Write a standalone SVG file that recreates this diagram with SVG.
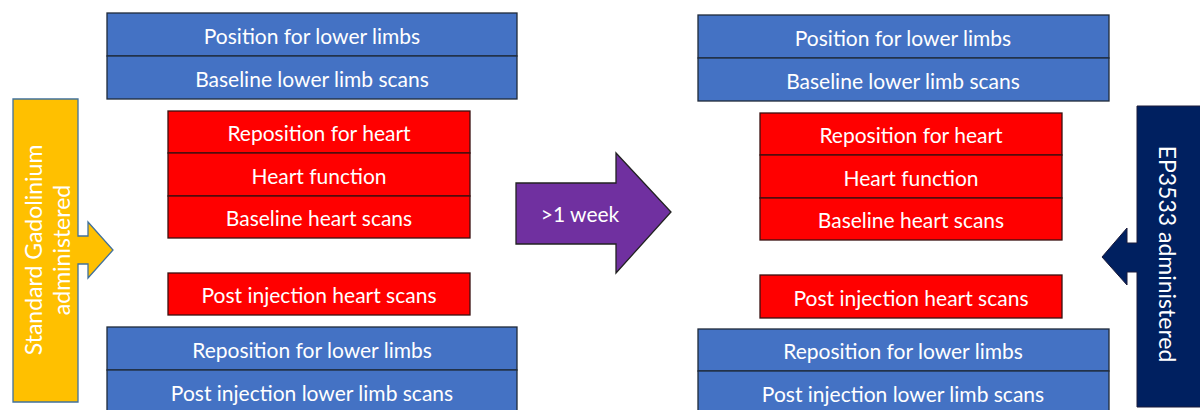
<svg xmlns="http://www.w3.org/2000/svg" width="1200" height="410" viewBox="0 0 1200 410">
<style>
.b{fill:#4472C4;stroke:#1f2a3a;stroke-width:1.3}
.r{fill:#FF0000;stroke:#3a1010;stroke-width:1.3}
.t{font-family:Lato,"Open Sans",sans-serif;font-size:21px;fill:#fff;text-anchor:middle;dominant-baseline:central}
.v{font-size:23px}
</style>
<rect width="1200" height="410" fill="#fff"/>
<g id="left-top">
<rect class="b" x="107" y="13" width="410" height="43"/>
<text class="t" x="312" y="35">Position for lower limbs</text>
<rect class="b" x="107" y="56" width="410" height="43"/>
<text class="t" x="312" y="78">Baseline lower limb scans</text>
</g>
<g id="left-heart">
<rect class="r" x="168" y="111" width="302" height="42"/>
<text class="t" x="319" y="132">Reposition for heart</text>
<rect class="r" x="168" y="153" width="302" height="43"/>
<text class="t" x="319" y="175">Heart function</text>
<rect class="r" x="168" y="196" width="302" height="42"/>
<text class="t" x="319" y="217">Baseline heart scans</text>
</g>
<g id="left-post-heart">
<rect class="r" x="168" y="273" width="302" height="42"/>
<text class="t" x="319" y="294">Post injection heart scans</text>
</g>
<g id="left-bottom">
<rect class="b" x="107" y="327" width="410" height="43"/>
<text class="t" x="312" y="349">Reposition for lower limbs</text>
<rect class="b" x="107" y="370" width="410" height="43"/>
<text class="t" x="312" y="392">Post injection lower limb scans</text>
</g>
<g id="right-top">
<rect class="b" x="698" y="15" width="411" height="43"/>
<text class="t" x="903" y="37">Position for lower limbs</text>
<rect class="b" x="698" y="58" width="411" height="43"/>
<text class="t" x="903" y="80">Baseline lower limb scans</text>
</g>
<g id="right-heart">
<rect class="r" x="760" y="113" width="302" height="42"/>
<text class="t" x="911" y="134">Reposition for heart</text>
<rect class="r" x="760" y="155" width="302" height="43"/>
<text class="t" x="911" y="177">Heart function</text>
<rect class="r" x="760" y="198" width="302" height="42"/>
<text class="t" x="911" y="219">Baseline heart scans</text>
</g>
<g id="right-post-heart">
<rect class="r" x="760" y="275" width="302" height="43"/>
<text class="t" x="911" y="297">Post injection heart scans</text>
</g>
<g id="right-bottom">
<rect class="b" x="698" y="329" width="411" height="42"/>
<text class="t" x="903" y="350">Reposition for lower limbs</text>
<rect class="b" x="698" y="371" width="411" height="43"/>
<text class="t" x="903" y="393">Post injection lower limb scans</text>
</g>
<g id="gadolinium">
<path d="M13,99 H78 V236 H88 V222 L113,250 L88,278 V264 H78 V402 H13 Z" fill="#FFC000" stroke="#41719C" stroke-width="1.3"/>
<text class="t v" transform="translate(33,250) rotate(-90)">Standard Gadolinium</text>
<text class="t v" transform="translate(61,250) rotate(-90)">administered</text>
</g>
<g id="week">
<path d="M516,183 H616 V153 L671,212 L616,273 V244 H516 Z" fill="#7030A0" stroke="#222" stroke-width="1.3"/>
<text class="t" x="580" y="213">&gt;1 week</text>
</g>
<g id="ep3533">
<path d="M1137,106 H1201 V407 H1137 V272 H1127 V285 L1102,257 L1127,228 V243 H1137 Z" fill="#002060" stroke="#1a1a3a" stroke-width="1"/>
<text class="t v" transform="translate(1168,254) rotate(90)">EP3533 administered</text>
</g>
<g id="connectors"></g>
</svg>
